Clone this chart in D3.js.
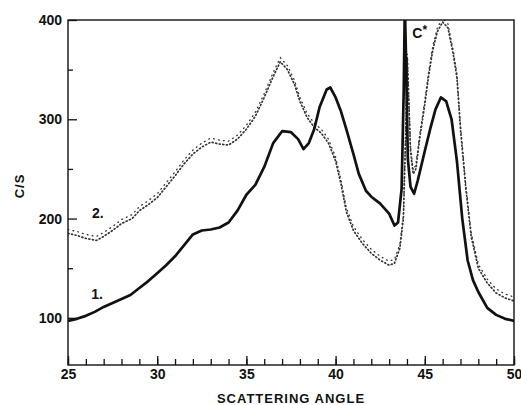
<!DOCTYPE html>
<html><head><meta charset="utf-8">
<script src="https://cdn.jsdelivr.net/npm/d3@7"></script>
<style>
body{margin:0;background:#fff;}
svg{display:block;}
text{font-family:"Liberation Sans",Arial,sans-serif;font-weight:bold;fill:#111;}
</style></head>
<body>
<svg id="c" width="521" height="405"></svg>
<script>
// Curve 1 (solid)
const angle1 = [25,25.5,26,26.5,27,27.5,28,28.5,29,29.5,30,30.5,31,31.5,32,32.5,33,33.5,34,34.5,35,35.5,36,36.5,37,37.5,37.9,38.2,38.5,38.8,39.1,39.5,39.7,40,40.3,40.6,41,41.3,41.7,42,42.5,43,43.3,43.5,43.7,43.82,43.88,43.95,44.05,44.2,44.4,44.6,45,45.3,45.6,45.9,46.2,46.5,46.8,47.1,47.4,47.7,48,48.5,49,49.5,50];
const counts1 = [97,99,102,106,111,115,119,123,130,137,145,153,162,173,184,188,189,191,196,208,224,234,252,276,288,287,280,270,276,290,312,330,332,322,308,290,265,245,228,222,215,205,193,196,230,330,415,360,260,232,225,238,268,290,310,322,318,300,258,200,158,138,126,110,103,99,97];
// Curve 2 (dotted)
const angle2 = [25,25.5,26,26.6,27,27.5,28,28.6,29,29.5,30,30.5,31,31.5,32,32.5,33,33.5,34,34.5,35,35.5,36,36.5,36.9,37.3,37.7,38,38.4,38.8,39.2,39.6,40,40.3,40.6,41,41.5,42,42.5,43,43.3,43.6,43.8,43.95,44.02,44.1,44.2,44.35,44.5,44.7,45,45.2,45.45,45.7,46,46.3,46.6,46.8,47,47.3,47.6,48,48.5,49,49.5,50];
const counts2 = [185,183,180,178,182,188,195,200,208,214,221,232,243,255,265,272,277,275,274,280,290,303,322,343,358,350,335,318,302,292,286,276,258,235,207,188,175,165,158,153,155,170,200,300,362,320,268,245,250,279,315,342,370,388,398,392,365,342,290,230,182,150,135,125,120,117];
const xTicksMajor = [25,30,35,40,45,50];
const xTicksMinor = d3.range(25,51,1);
const yTicksMajor = [100,200,300,400];
const yTicksMinor = [150,250,350];
const xLabel = "SCATTERING ANGLE";
const yLabel = "C/S";
const curveLabels = [{t:"1.",a:26.3,v:119},{t:"2.",a:26.35,v:201}];

const svg = d3.select("#c");
const L=68,R=514,T=20,B=365;
const x = d3.scaleLinear().domain([25,50]).range([L,R]);
const y = d3.scaleLinear().domain([52.5,400]).range([B,T]);

svg.append("clipPath").attr("id","clip").append("rect")
  .attr("x",L).attr("y",T).attr("width",R-L).attr("height",B-T);

const g = svg.append("g").attr("clip-path","url(#clip)");
const line = d3.line().x(d=>x(d[0])).y(d=>y(d[1]));

g.append("path").datum(angle2.map((a,i)=>[a,counts2[i]]))
  .attr("d",line).attr("fill","none").attr("stroke","#333")
  .attr("stroke-width",1.7).attr("stroke-dasharray","1 2.6").attr("stroke-linecap","round");
g.append("path").datum(angle2.map((a,i)=>[a,counts2[i]+4]))
  .attr("d",line).attr("fill","none").attr("stroke","#333")
  .attr("stroke-width",1.3).attr("stroke-dasharray","0.8 4.2").attr("stroke-linecap","round");

g.append("path").datum(angle1.map((a,i)=>[a,counts1[i]]))
  .attr("d",line).attr("fill","none").attr("stroke","#111")
  .attr("stroke-width",2.7).attr("stroke-linejoin","round");

// frame
svg.append("rect").attr("x",L).attr("y",T).attr("width",R-L).attr("height",B-T)
  .attr("fill","none").attr("stroke","#111").attr("stroke-width",1.4);

// axes
const axStyle = sel=>{sel.select(".domain").remove();sel.selectAll("line").attr("stroke","#111").attr("stroke-width",1.3);};
svg.append("g").attr("transform",`translate(0,${B})`)
  .call(d3.axisBottom(x).tickValues(xTicksMinor).tickSize(-6).tickFormat(""))
  .call(axStyle);
svg.append("g").attr("transform",`translate(0,${B})`)
  .call(d3.axisBottom(x).tickValues(xTicksMajor).tickSize(-9).tickPadding(4).tickFormat(d3.format("d")))
  .call(axStyle)
  .selectAll("text").style("font-size","14px").attr("fill","#111");
svg.append("g").attr("transform",`translate(${L},0)`)
  .call(d3.axisLeft(y).tickValues(yTicksMinor).tickSize(-5).tickFormat(""))
  .call(axStyle);
svg.append("g").attr("transform",`translate(${L},0)`)
  .call(d3.axisLeft(y).tickValues(yTicksMajor).tickSize(-9).tickPadding(6).tickFormat(d3.format("d")))
  .call(axStyle)
  .selectAll("text").style("font-size","14px").attr("fill","#111");

svg.append("text").attr("x",(L+R)/2).attr("y",403).attr("text-anchor","middle")
  .style("font-size","13px").style("letter-spacing","1px").text(xLabel);
svg.append("text").attr("transform","translate(24,186) rotate(-90)").attr("text-anchor","middle")
  .style("font-size","13px").style("letter-spacing","1px").text(yLabel);

curveLabels.forEach(c=>{
  svg.append("text").attr("x",x(c.a)).attr("y",y(c.v)).style("font-size","14px").text(c.t);
});
const cs = svg.append("text").attr("x",x(44.3)).attr("y",y(382)).style("font-size","14px");
cs.append("tspan").text("C");
cs.append("tspan").attr("dy",-4).style("font-size","12px").text("*");
</script>
</body></html>
